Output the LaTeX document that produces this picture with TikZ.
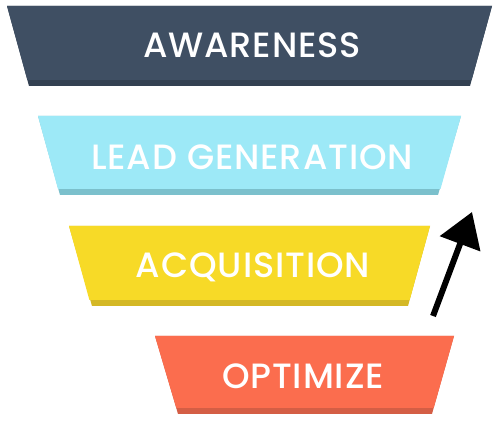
\documentclass[tikz,border=0pt]{standalone}
\usepackage{fontspec}
\setmainfont{Poppins}[UprightFont=* Medium,LetterSpace=2.5]
\usepackage{tikz}
\usetikzlibrary{arrows.meta}

\definecolor{awarefill}{HTML}{3F4F63}
\definecolor{awareshade}{HTML}{334152}
\definecolor{leadfill}{HTML}{9DE9F7}
\definecolor{leadshade}{HTML}{7BC0CC}
\definecolor{acqfill}{HTML}{F7DA27}
\definecolor{acqshade}{HTML}{D4B826}
\definecolor{optfill}{HTML}{FB6D4E}
\definecolor{optshade}{HTML}{D45E45}

\begin{document}
\begin{tikzpicture}[x=0.02cm,y=-0.02cm,
    bandtext/.style={text=white,font=\fontsize{20}{20}\selectfont}]
    \useasboundingbox (0,0) rectangle (500,421);

    % awareness
    \fill[awareshade] (7,6) -- (492,6) -- (470,86) -- (29,86) -- cycle;
    \fill[awarefill] (7,6) -- (492,6) -- (471.6,80) -- (27.4,80) -- cycle;
    \node[bandtext] (aware) at (252,45) {AWARENESS};

    % lead generation
    \fill[leadshade] (38,116) -- (461,116) -- (438,195) -- (60,195) -- cycle;
    \fill[leadfill] (38,116) -- (461,116) -- (440.5,189) -- (58,189) -- cycle;
    \node[bandtext] (lead) at (252,157) {LEAD GENERATION};

    % acquisition
    \fill[acqshade] (69,226) -- (430,226) -- (408,306) -- (92,306) -- cycle;
    \fill[acqfill] (69,226) -- (430,226) -- (409.6,300) -- (89.4,300) -- cycle;
    \node[bandtext] (acq) at (253,267) {ACQUISITION};

    % optimize
    \fill[optshade] (155,336) -- (454,336) -- (432,414) -- (178,414) -- cycle;
    \fill[optfill] (155,336) -- (454,336) -- (433.6,408) -- (176.4,408) -- cycle;
    \node[bandtext] (opt) at (303,376) {OPTIMIZE};

    \coordinate (tail) at (433,316);
    \coordinate (tip) at (472,212);
    \draw[line width=3.4pt,-{Triangle[length=0.68cm,width=0.84cm]}] (tail) -- (tip);

\end{tikzpicture}
\end{document}
